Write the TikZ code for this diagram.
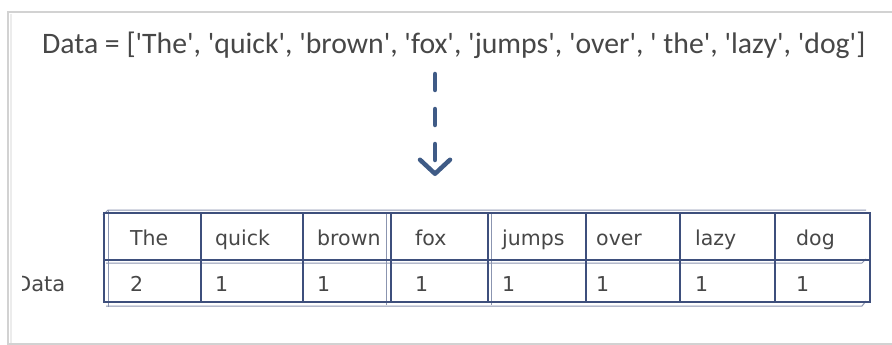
\documentclass[tikz,border=0pt]{standalone}
\usepackage{fontspec}
\setmainfont{DejaVu Sans}
\newfontfamily\topfont{Carlito}
\usetikzlibrary{arrows.meta}
\definecolor{tblue}{HTML}{3E4F7C}
\definecolor{ablue}{HTML}{3F5B86}
\definecolor{txt}{HTML}{474747}
\newcommand\sq{\textquotesingle}
\begin{document}
\begin{tikzpicture}[x=1pt,y=-1pt,
  celltxt/.style={anchor=base west, font=\fontsize{20.5}{24}\selectfont, text=txt, inner sep=0pt},
  cellbox/.style={draw=tblue, line width=1.7pt, inner sep=0pt, anchor=north west},
  shadowline/.style={draw=tblue!60, line width=1pt},
  framel/.style={draw=gray!35, line width=1.3pt}]
\useasboundingbox (0,0) rectangle (892,345);
\fill[white] (0,0) rectangle (892,345);
\draw[framel] (892,12) -- (8,12) -- (8,344) -- (892,344);
\draw[draw=gray!15, line width=2pt] (10.5,14) -- (10.5,343);
% top list
\node[font=\topfont\fontsize{22}{26}\selectfont, text=txt, anchor=west, inner sep=0pt] (list) at (42,45)
 {\resizebox{823pt}{!}{Data = [\sq The\sq, \sq quick\sq, \sq brown\sq, \sq fox\sq, \sq jumps\sq, \sq over\sq, \sq\ the\sq, \sq lazy\sq, \sq dog\sq]}};
% arrow
\coordinate (aS) at (435,74);
\coordinate (aE) at (435,176);
\draw[ablue, line width=4.5pt, line cap=round, dash pattern=on 16pt off 19pt,
  -{Straight Barb[length=14pt,width=30pt,line cap=round,line join=round]}] (aS) -- (aE);
% table shadows
\draw[shadowline] (103,215) -- (108,210) -- (866,210);
\draw[shadowline] (108,210) -- (108,307);
\draw[shadowline] (106,263) -- (862,263) -- (866,259);
\draw[shadowline] (106,306) -- (862,306) -- (866,301);
\draw[shadowline] (386.5,212) -- (386.5,305);
\draw[shadowline] (491,212) -- (491,305);
% cells
\foreach \i/\l/\r/\h/\v/\dx in {1/103/200/The/2/27, 2/200/302/quick/1/15, 3/302/390/brown/1/15,
  4/390/487/fox/1/25, 5/487/585/jumps/1/15, 6/585/679/over/1/11, 7/679/774/lazy/1/16, 8/774/869/dog/1/22}{
  \node[cellbox, minimum width={\r-\l}, minimum height=47] (h\i) at (\l,212) {};
  \node[cellbox, minimum width={\r-\l}, minimum height=42] (v\i) at (\l,259) {};
  \node[celltxt] (th\i) at (\l+\dx,245) {\h};
  \node[celltxt] (tv\i) at (\l+\dx,291) {\v};
}
% row label
\begin{scope}
\clip (22,255) rectangle (100,310);
\node[celltxt, font=\fontsize{21}{24}\selectfont] (lbl) at (15,291) {Data};
\end{scope}
\end{tikzpicture}
\end{document}
